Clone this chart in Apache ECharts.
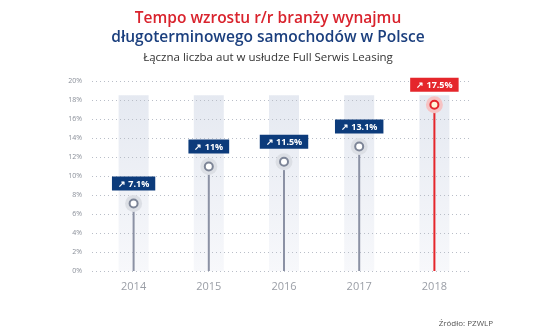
<!DOCTYPE html>
<html><head><meta charset="utf-8">
<script src="https://cdn.jsdelivr.net/npm/echarts@6/dist/echarts.min.js"></script>
<style>html,body{margin:0;padding:0;background:#fff}#c{width:536px;height:332px}</style>
</head><body><div id="c"></div>
<script>
var years = ['2014','2015','2016','2017','2018'];
var growth = [7.1, 11, 11.5, 13.1, 17.5];
var labels = ['7.1%','11%','11.5%','13.1%','17.5%'];
var columnTop = [18.5, 18.5, 18.5, 18.5, 18.5];
var highlightIndex = 4;

var grey = '#8b91a4', red = '#e5262b', navy = '#0c3b7b';
var chart = echarts.init(document.getElementById('c'));
function col(i, a, b){ return i === highlightIndex ? b : a; }

chart.setOption({
  animation: false,
  title: [
    {text: 'Tempo wzrostu r/r branży wynajmu', left: 'center', top: 6,
     textStyle: {color: '#d9232d', fontSize: 15.5, fontWeight: 600, fontFamily: 'Open Sans'}},
    {text: 'długoterminowego samochodów w Polsce', left: 'center', top: 25,
     textStyle: {color: '#1b3f7e', fontSize: 15.5, fontWeight: 600, fontFamily: 'Open Sans'}},
    {text: 'Łączna liczba aut w usłudze Full Serwis Leasing', left: 'center', top: 47,
     textStyle: {color: '#333', fontSize: 11.5, fontWeight: 'normal', fontFamily: 'Open Sans'}},
    {text: 'Źródło: PZWLP', right: 38, top: 315,
     textStyle: {color: '#555', fontSize: 8, fontWeight: 'normal', fontFamily: 'Open Sans'}}
  ],
  grid: [
    {left: 92, right: 64, top: 81, bottom: 61},
    {left: 96, right: 64, top: 81, bottom: 61}
  ],
  xAxis: [
    {gridIndex: 0, type: 'category', data: years, show: false},
    {gridIndex: 1, type: 'category', data: years,
     axisLine: {show: false}, axisTick: {show: false},
     axisLabel: {color: '#9a9ea6', fontSize: 11, margin: 10, fontFamily: 'Open Sans'}},
    {gridIndex: 1, type: 'category', data: years, show: false}
  ],
  yAxis: [
    {gridIndex: 0, type: 'value', min: 0, max: 20, interval: 2, z: 1,
     axisLine: {show: false}, axisTick: {show: false},
     axisLabel: {formatter: '{value}%', color: '#8a8f99', fontSize: 7, margin: 10, fontFamily: 'Open Sans'},
     splitLine: {lineStyle: {type: [1, 3], color: '#b9bec8', width: 1}}},
    {gridIndex: 1, type: 'value', min: 0, max: 20, show: false, splitLine: {show: false}}
  ],
  series: [
    {type: 'bar', xAxisIndex: 2, yAxisIndex: 1, data: columnTop, barWidth: 30, z: 0,
     itemStyle: {color: new echarts.graphic.LinearGradient(0,0,0,1,[{offset:0,color:'#e5e9f1'},{offset:1,color:'#f7f8fb'}])},
     silent: true},
    {type: 'bar', xAxisIndex: 1, yAxisIndex: 1, barWidth: 2, z: 2,
     data: growth.map(function(v,i){return {value: v, itemStyle: {color: col(i, grey, red)}};})},
    {type: 'scatter', xAxisIndex: 1, yAxisIndex: 1, symbolSize: 17, z: 3,
     data: growth.map(function(v,i){return {value: v, itemStyle: {opacity: 1, color: col(i, '#dcdfe5', '#f6c3c4')}};})},
    {type: 'scatter', xAxisIndex: 1, yAxisIndex: 1, symbolSize: 8, z: 4,
     data: growth.map(function(v,i){return {value: v,
        itemStyle: {opacity: 1, color: col(i, '#fff', '#fff6d8'), borderColor: col(i, '#7d8597', red), borderWidth: 2},
        label: {show: true, position: 'top', distance: 8,
          formatter: '↗ ' + labels[i], color: '#fff', fontSize: 9, fontWeight: 'bold', fontFamily: 'Open Sans',
          backgroundColor: col(i, navy, red), padding: [3, 6, 2, 6]}};})}
  ]
});
</script></body></html>
